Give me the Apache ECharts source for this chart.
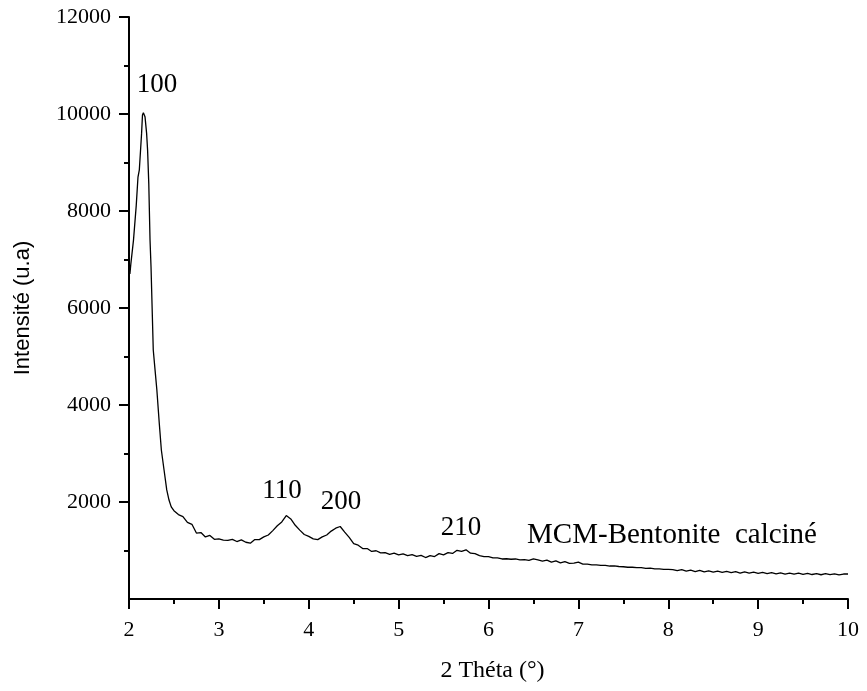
<!DOCTYPE html>
<html>
<head>
<meta charset="utf-8">
<script src="https://cdn.jsdelivr.net/npm/echarts@6/dist/echarts.min.js"></script>
<style>
html,body{margin:0;padding:0;background:#fff;}
#chart{width:867px;height:691px;}
</style>
</head>
<body>
<div id="chart"></div>
<script>
var twoTheta = [
2.00,2.01,2.02,2.05,2.08,2.10,2.115,2.13,2.14,2.15,2.16,2.178,2.196,2.207,2.22,2.234,2.245,2.26,2.27,2.29,2.31,2.337,2.36,2.39,2.42,2.445,2.47,
2.50,2.55,2.60,2.65,2.70,2.75,2.80,2.85,2.90,2.95,
3.00,3.05,3.10,3.15,3.20,3.25,3.30,3.35,3.40,3.45,3.50,3.55,3.60,3.65,3.70,3.75,3.80,3.85,3.90,3.95,
4.00,4.05,4.10,4.15,4.20,4.25,4.30,4.35,4.40,4.45,4.50,4.55,4.60,4.65,4.70,4.75,4.80,4.85,4.90,4.95,
5.00,5.05,5.10,5.15,5.20,5.25,5.30,5.35,5.40,5.45,5.50,5.55,5.60,5.65,5.70,5.75,5.80,5.85,5.90,5.95,
6.00,6.05,6.10,6.15,6.20,6.25,6.30,6.35,6.40,6.45,6.50,6.55,6.60,6.65,6.70,6.75,6.80,6.85,6.90,6.95,
7.00,7.05,7.10,7.15,7.20,7.25,7.30,7.35,7.40,7.45,7.50,7.55,7.60,7.65,7.70,7.75,7.80,7.85,7.90,7.95,
8.00,8.05,8.10,8.15,8.20,8.25,8.30,8.35,8.40,8.45,8.50,8.55,8.60,8.65,8.70,8.75,8.80,8.85,8.90,8.95,
9.00,9.05,9.10,9.15,9.20,9.25,9.30,9.35,9.40,9.45,9.50,9.55,9.60,9.65,9.70,9.75,9.80,9.85,9.90,9.95,
10.00
];
var intensity = [
6850,6700,6900,7400,8100,8700,8850,9300,9600,9980,10025,9945,9600,9250,8570,7400,6850,5820,5134,4720,4310,3620,3072,2660,2250,2040,1900,
1820,1740,1700,1580,1540,1360,1370,1280,1310,1230,
1240,1215,1210,1230,1185,1220,1170,1150,1225,1225,1280,1320,1410,1510,1590,1720,1650,1520,1420,1330,
1290,1240,1225,1280,1320,1400,1460,1495,1380,1270,1140,1110,1040,1040,980,995,950,955,920,945,
910,930,895,915,880,900,855,895,875,935,910,955,940,1005,980,1015,945,935,895,875,
875,850,850,825,830,820,825,805,810,795,825,805,780,800,760,785,745,770,735,740,
760,720,720,705,705,695,695,680,685,670,665,655,655,645,645,630,635,620,620,610,
610,605,585,605,575,595,565,590,560,580,555,575,550,570,545,565,535,560,535,555,
530,550,525,545,520,540,515,535,512,532,508,528,505,525,500,522,502,518,498,515,
515
];
var yTicks = [2000,4000,6000,8000,10000,12000];
var annX = [2.312,3.702,4.359,5.694,8.042];
var annY = [10598,2227,2000,1464,1320];
var annText = ['100','110','200','210','MCM-Bentonite  calcin\u00e9'];
var annSize = [27,27,27,27,29];

var lineData = twoTheta.map(function(x,i){return [x,intensity[i]];});
var annData = annX.map(function(x,i){
  return {value:[x,annY[i]],label:{formatter:annText[i],fontSize:annSize[i]}};
});

var serif = 'Liberation Serif';
var chart = echarts.init(document.getElementById('chart'),null,{renderer:'canvas'});
chart.setOption({
  animation:false,
  backgroundColor:'#ffffff',
  grid:{left:129,right:19,top:17,bottom:92,containLabel:false},
  xAxis:{
    type:'value',min:2,max:10,interval:1,
    name:'2 Th\u00e9ta (\u00b0)',nameLocation:'middle',nameGap:60,
    nameTextStyle:{fontFamily:serif,fontSize:24,color:'#000',padding:[0,0,0,8]},
    axisLine:{show:true,onZero:false,lineStyle:{color:'#000',width:2}},
    axisTick:{show:true,inside:false,length:10,lineStyle:{color:'#000',width:2}},
    minorTick:{show:true,splitNumber:2,length:5,lineStyle:{color:'#000',width:2}},
    axisLabel:{fontFamily:serif,fontSize:22,color:'#000',margin:20},
    splitLine:{show:false},minorSplitLine:{show:false}
  },
  yAxis:{
    type:'value',min:0,max:12000,interval:2000,
    name:'Intensit\u00e9 (u.a)',nameLocation:'middle',nameGap:95,nameRotate:90,
    nameTextStyle:{fontFamily:'Liberation Sans',fontSize:22,color:'#000'},
    axisLine:{show:true,onZero:false,lineStyle:{color:'#000',width:2}},
    axisTick:{show:true,inside:false,length:10,customValues:yTicks,lineStyle:{color:'#000',width:2}},
    minorTick:{show:true,splitNumber:2,length:5,lineStyle:{color:'#000',width:2}},
    axisLabel:{fontFamily:serif,fontSize:22,color:'#000',margin:18,customValues:yTicks,
      formatter:function(v){return String(v);}},
    splitLine:{show:false},minorSplitLine:{show:false}
  },
  series:[
    {type:'line',data:lineData,showSymbol:false,symbol:'none',
     lineStyle:{color:'#000',width:1.3},z:3,silent:true},
    {type:'scatter',data:annData,symbolSize:0,silent:true,z:4,
     itemStyle:{color:'#000',opacity:1},
     label:{show:true,position:'inside',fontFamily:serif,color:'#000',
       textBorderWidth:0,opacity:1}}
  ]
});
</script>
</body>
</html>
